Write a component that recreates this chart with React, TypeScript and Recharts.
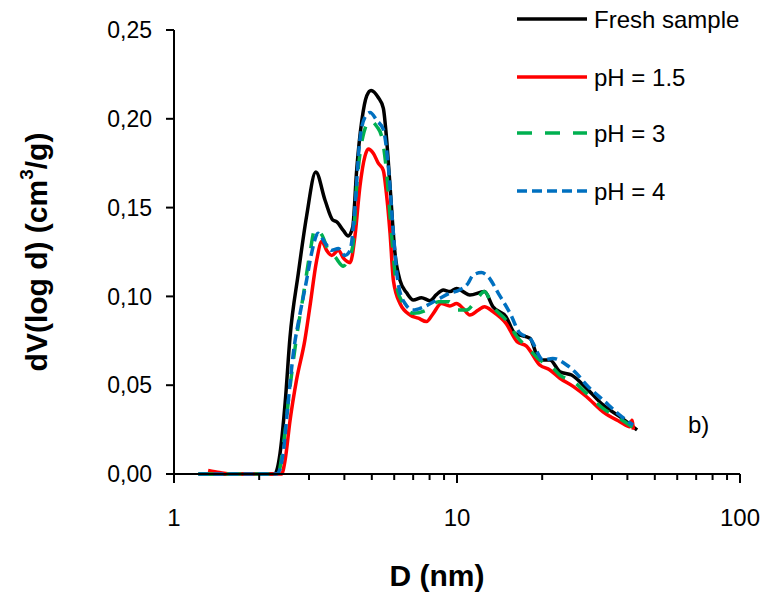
import React from "react";
import { Line, LineChart, XAxis, YAxis } from "recharts";

// pore diameter (nm) and dV/dlog(d) (cm3/g)
const freshD = [1.22, 1.6, 2.0, 2.27, 2.37, 2.47, 2.57, 2.75, 2.94, 3.17, 3.42, 3.64, 3.76, 3.97, 4.13, 4.28, 4.42, 4.61, 4.8, 4.97, 5.27, 5.49, 5.63, 5.8, 6.04, 6.29, 6.64, 7.01, 7.49, 8.02, 8.46, 8.94, 9.44, 9.97, 10.5, 11.1, 12.5, 13.4, 14.9, 16.0, 18.1, 19.6, 21.3, 23.1, 25.4, 28.7, 32.8, 37.6, 41.9, 43.3];
const freshV = [0, 0, 0, 0, 0.0117, 0.04, 0.077, 0.113, 0.145, 0.17, 0.154, 0.143, 0.142, 0.137, 0.134, 0.139, 0.171, 0.199, 0.213, 0.216, 0.212, 0.206, 0.19, 0.162, 0.124, 0.109, 0.102, 0.098, 0.0993, 0.0976, 0.101, 0.1036, 0.1027, 0.1045, 0.1027, 0.1008, 0.1027, 0.0942, 0.0886, 0.0792, 0.0764, 0.0642, 0.0642, 0.0576, 0.0557, 0.0482, 0.0389, 0.0323, 0.0266, 0.0248];

const ph15D = [1.32, 1.45, 1.6, 2.0, 2.4, 2.47, 2.57, 2.71, 2.9, 3.02, 3.19, 3.33, 3.46, 3.61, 3.81, 3.97, 4.19, 4.36, 4.54, 4.73, 4.86, 5.06, 5.27, 5.49, 5.63, 5.8, 5.96, 6.29, 6.83, 7.3, 7.8, 8.25, 8.8, 9.44, 9.97, 10.5, 11.1, 11.9, 12.5, 13.4, 14.9, 16.3, 17.6, 19.6, 21.3, 23.1, 25.8, 28.7, 32.8, 37.6, 40.8, 41.5, 42.0];
const ph15V = [0.002, 0.0008, 0, 0, 0, 0.0079, 0.03, 0.053, 0.0754, 0.094, 0.12, 0.131, 0.126, 0.123, 0.126, 0.1215, 0.119, 0.134, 0.162, 0.179, 0.183, 0.1806, 0.175, 0.171, 0.158, 0.1355, 0.109, 0.096, 0.0895, 0.0877, 0.0858, 0.0905, 0.096, 0.0946, 0.096, 0.0933, 0.0895, 0.0923, 0.0942, 0.0914, 0.0848, 0.0745, 0.072, 0.0614, 0.0586, 0.0539, 0.0492, 0.0435, 0.035, 0.0295, 0.0266, 0.0302, 0.025];

const ph3D = [1.22, 2.0, 2.33, 2.43, 2.57, 2.71, 2.86, 3.02, 3.15, 3.33, 3.51, 3.7, 3.97, 4.13, 4.28, 4.42, 4.65, 4.93, 5.21, 5.42, 5.63, 5.88, 6.12, 6.45, 7.01, 7.8, 8.6, 9.4, 9.8, 10.8, 11.7, 12.5, 13.4, 14.9, 16.3, 18.1, 19.6, 21.6, 23.1, 25.8, 28.7, 32.8, 37.6, 43.1];
const ph3V = [0, 0, 0, 0.0154, 0.049, 0.077, 0.1, 0.124, 0.138, 0.1346, 0.126, 0.1224, 0.117, 0.1215, 0.128, 0.162, 0.19, 0.199, 0.1956, 0.19, 0.171, 0.1336, 0.1055, 0.096, 0.0905, 0.0923, 0.097, 0.097, 0.0923, 0.0923, 0.098, 0.1027, 0.0942, 0.0867, 0.0773, 0.0698, 0.0642, 0.0604, 0.0557, 0.052, 0.0454, 0.037, 0.0313, 0.0248];

const ph4D = [1.22, 2.0, 2.31, 2.43, 2.53, 2.64, 2.79, 2.94, 3.06, 3.23, 3.42, 3.61, 3.81, 4.02, 4.19, 4.36, 4.51, 4.73, 4.93, 5.21, 5.49, 5.72, 5.96, 6.2, 6.55, 7.0, 7.6, 8.5, 9.4, 10.2, 10.9, 11.4, 12.2, 12.9, 14.0, 15.4, 16.7, 18.1, 20.2, 21.8, 24.4, 26.4, 28.7, 32.8, 37.6, 41.9];
const ph4V = [0, 0, 0, 0.0117, 0.0398, 0.068, 0.0905, 0.109, 0.124, 0.1355, 0.13, 0.126, 0.127, 0.123, 0.126, 0.15, 0.184, 0.201, 0.2035, 0.199, 0.194, 0.173, 0.1355, 0.107, 0.096, 0.0923, 0.094, 0.098, 0.1017, 0.1036, 0.107, 0.112, 0.1134, 0.111, 0.1017, 0.0905, 0.0792, 0.0764, 0.0642, 0.0651, 0.0614, 0.0567, 0.0501, 0.0417, 0.0332, 0.0276];

const X_TICKS = [1, 2, 3, 4, 5, 6, 7, 8, 9, 10, 20, 30, 40, 50, 60, 70, 80, 90, 100];
const X_LABELS = [1, 10, 100];
const Y_TICKS = [0, 0.05, 0.1, 0.15, 0.2, 0.25];

const FONT = "'Liberation Sans', Arial, sans-serif";

const SERIES = [
  { name: "Fresh sample", d: freshD, v: freshV, color: "#000000", dash: undefined },
  { name: "pH = 1.5", d: ph15D, v: ph15V, color: "#FF0000", dash: undefined },
  { name: "pH = 3", d: ph3D, v: ph3V, color: "#00B050", dash: "15 13" },
  { name: "pH = 4", d: ph4D, v: ph4V, color: "#0070C0", dash: "10 5" },
];

const toRows = (d: number[], v: number[]) => d.map((x, i) => ({ d: x, v: v[i] }));

const XTick = (props: any) => {
  const { x, y, payload } = props;
  const major = X_LABELS.includes(payload.value);
  return (
    <g>
      <line x1={x} x2={x} y1={y} y2={y + (major ? 9 : 6)} stroke="#000" strokeWidth={2} />
      {major && (
        <text x={x} y={y + 52} textAnchor="middle" fontSize={24} fontFamily={FONT} fill="#000">
          {payload.value}
        </text>
      )}
    </g>
  );
};

export default function App() {
  return (
    <div style={{ position: "absolute", left: 0, top: 0, width: 769, height: 597, background: "#fff" }}>
      <LineChart width={769} height={597} margin={{ top: 30, right: 29, left: 0, bottom: 0 }}>
        <XAxis
          dataKey="d"
          type="number"
          scale="log"
          domain={[1, 100]}
          ticks={X_TICKS}
          interval={0}
          height={123}
          tickSize={0}
          tickMargin={0}
          tick={<XTick />}
          axisLine={{ stroke: "#000", strokeWidth: 2 }}
          allowDataOverflow
        />
        <YAxis
          type="number"
          domain={[0, 0.25]}
          ticks={Y_TICKS}
          width={174}
          tickSize={8}
          tickMargin={14}
          tickFormatter={(v: number) => v.toFixed(2).replace(".", ",")}
          tick={{ fill: "#000", fontSize: 23, fontFamily: FONT }}
          tickLine={{ stroke: "#000", strokeWidth: 2 }}
          axisLine={{ stroke: "#000", strokeWidth: 2 }}
        />
        {SERIES.map((s) => (
          <Line
            key={s.name}
            data={toRows(s.d, s.v)}
            dataKey="v"
            name={s.name}
            type="monotone"
            stroke={s.color}
            strokeWidth={3.5}
            strokeDasharray={s.dash}
            dot={false}
            activeDot={false}
            isAnimationActive={false}
          />
        ))}
      </LineChart>
      <svg
        width={769}
        height={597}
        style={{ position: "absolute", left: 0, top: 0, pointerEvents: "none" }}
        fontFamily={FONT}
      >
        {SERIES.map((s, i) => {
          const y = [19, 77, 133, 191][i];
          return (
            <g key={s.name}>
              <line x1={517} x2={587} y1={y} y2={y} stroke={s.color} strokeWidth={3.5} strokeDasharray={s.dash} />
              <text x={594} y={y} dominantBaseline="central" fontSize={24} fill="#000">
                {s.name}
              </text>
            </g>
          );
        })}
        <text x={688} y={433} fontSize={24} fill="#000">b)</text>
        <text x={437} y={586} textAnchor="middle" fontSize={30} fontWeight="bold" fill="#000">
          D (nm)
        </text>
        <text
          x={36}
          y={252}
          transform="rotate(-90 36 252)"
          textAnchor="middle"
          dominantBaseline="central"
          fontSize={30}
          fontWeight="bold"
          fill="#000"
        >
          dV(log d) (cm<tspan dy={-10} fontSize={19}>3</tspan>
          <tspan dy={10}>/g)</tspan>
        </text>
      </svg>
    </div>
  );
}
